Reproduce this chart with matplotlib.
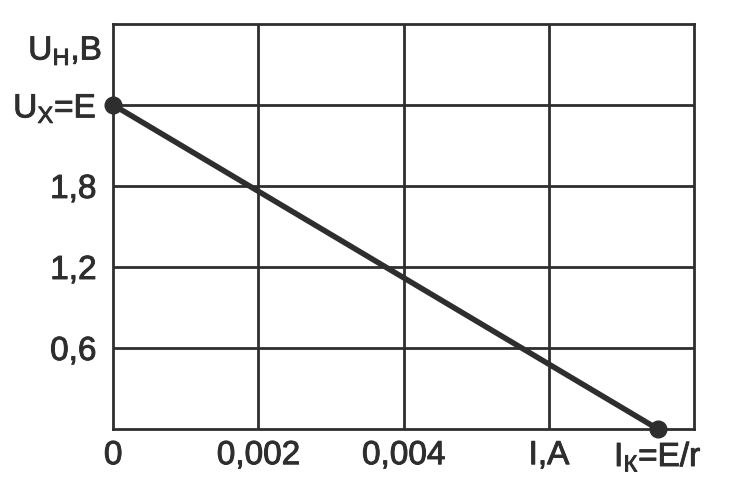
import matplotlib.pyplot as plt
import matplotlib.patheffects as pe

# load line: U = E - I*r
current = [0.0, 0.0075]
voltage = [2.4, 0.0]

x_grid = [0.002, 0.004, 0.006]
y_grid = [0.6, 1.2, 1.8, 2.4]

x_ticks = [0.0, 0.002, 0.004, 0.006, 0.0075]
x_labels = ['0', '0,002', '0,004', 'I,A', r'I$_\mathregular{К}$=E/r']
y_ticks = [0.6, 1.2, 1.8, 2.4]
y_labels = ['0,6', '1,2', '1,8', r'U$_\mathregular{Х}$=E']

plt.rcParams['font.family'] = ['Liberation Sans', 'DejaVu Sans']
plt.rcParams['mathtext.fontset'] = 'custom'
plt.rcParams['mathtext.rm'] = 'Liberation Sans'

ink = '#2e2e2e'
thick = [pe.withStroke(linewidth=0.7, foreground=ink)]

fig = plt.figure(figsize=(7.3, 4.87), dpi=100)
ax = fig.add_axes([0.155, 0.119, 0.796, 0.832])

for x in x_grid:
    ax.axvline(x, color=ink, lw=2.0, zorder=1)
for y in y_grid:
    ax.axhline(y, color=ink, lw=2.0, zorder=1)

ax.plot(current, voltage, color=ink, lw=4, zorder=3, solid_capstyle='round')
ax.plot(current, voltage, 'o', color=ink, ms=12, zorder=4, clip_on=False)

ax.set_xlim(0, 0.008)
ax.set_ylim(0, 3.0)
ax.set_xticks(x_ticks)
ax.set_xticklabels(x_labels)
ax.set_yticks(y_ticks)
ax.set_yticklabels(y_labels)
ax.tick_params(length=0, labelsize=24, colors=ink, pad=8)
ax.tick_params(axis='y', pad=12)
for lbl in ax.get_xticklabels() + ax.get_yticklabels():
    lbl.set_path_effects(thick)

for s in ax.spines.values():
    s.set_color(ink)
    s.set_linewidth(2.0)

ax.text(-0.00015, 2.8, r'U$_\mathregular{Н}$,В', fontsize=24, color=ink,
        ha='right', va='center', path_effects=thick)

fig.savefig('out.png', dpi=100)
